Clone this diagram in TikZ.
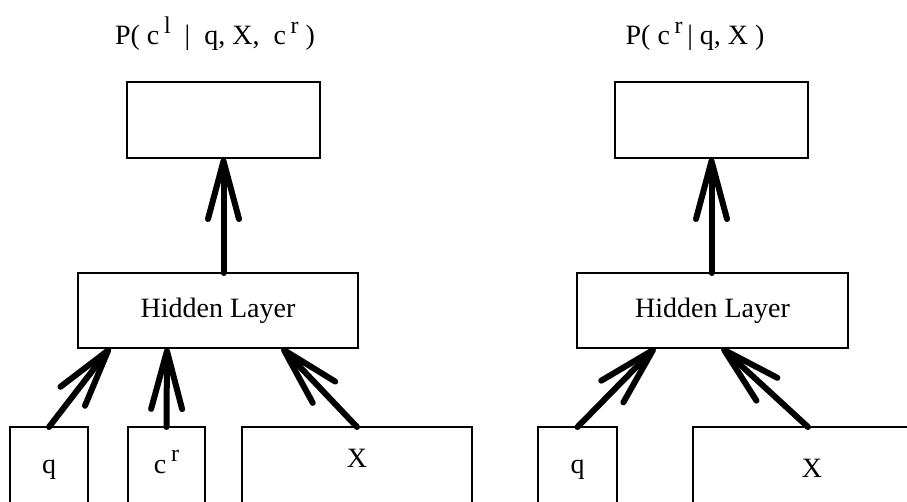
\documentclass[tikz,border=0pt]{standalone}
\usepackage{fontspec}
\setmainfont{Liberation Serif}
\usepackage{tikz}
\usetikzlibrary{arrows.meta}

\newcommand{\upidx}[1]{\,\raisebox{0.9ex}{\fontsize{24}{28}\selectfont #1}}

\begin{document}
\begin{tikzpicture}[
    x=1pt, y=-1pt,
    unit/.style={draw, line width=2pt, inner sep=0pt, outer sep=0pt, align=center, font=\fontsize{28}{34}\selectfont},
    inbox/.style={unit, minimum height=80pt, text height=20pt, text depth=8pt},
    arr/.style={-{Straight Barb[length=58pt, width=31pt, round]}, line width=6pt, line cap=round}
]
\useasboundingbox (0,0) rectangle (907,502);

% left network
\node[unit, minimum width=193pt, minimum height=76pt] (outL) at (223.5,120) {};
\node[unit, minimum width=280pt, minimum height=75pt] (hidL) at (218,310.5) {Hidden Layer};
\node[inbox, minimum width=78pt] (qL) at (49,467) {q};
\node[inbox, minimum width=77pt] (cL) at (166.5,467) {c\upidx{r}};
\node[inbox, minimum width=230pt, text depth=20pt] (XL) at (357,467) {X};
\node[anchor=base, font=\fontsize{28}{34}\selectfont] (titleL) at (215,45) {P( c\upidx{l} \ | \ q, X, \ c\upidx{r} )};

% right network
\node[unit, minimum width=193pt, minimum height=76pt] (outR) at (711.5,120) {};
\node[unit, minimum width=271pt, minimum height=75pt] (hidR) at (712.5,310.5) {Hidden Layer};
\node[inbox, minimum width=79pt] (qR) at (577.5,467) {q};
\node[inbox, minimum width=238pt, text height=28pt] (XR) at (812,467) {X};
\node[anchor=base, font=\fontsize{28}{34}\selectfont] (titleR) at (695,45) {P( c\upidx{r}\,| q, X )};

\draw[arr] (qL.north) -- ([xshift=32pt]hidL.south west);
\draw[arr] (cL.north) -- ([xshift=89pt]hidL.south west);
\draw[arr] (XL.north) -- ([xshift=204pt]hidL.south west);
\draw[arr] (outL.south |- hidL.north) -- (outL.south);

\draw[arr] (qR.north) -- ([xshift=78pt]hidR.south west);
\draw[arr] ([xshift=-4pt]XR.north) -- ([xshift=145pt]hidR.south west);
\draw[arr] (outR.south |- hidR.north) -- (outR.south);
\end{tikzpicture}
\end{document}
